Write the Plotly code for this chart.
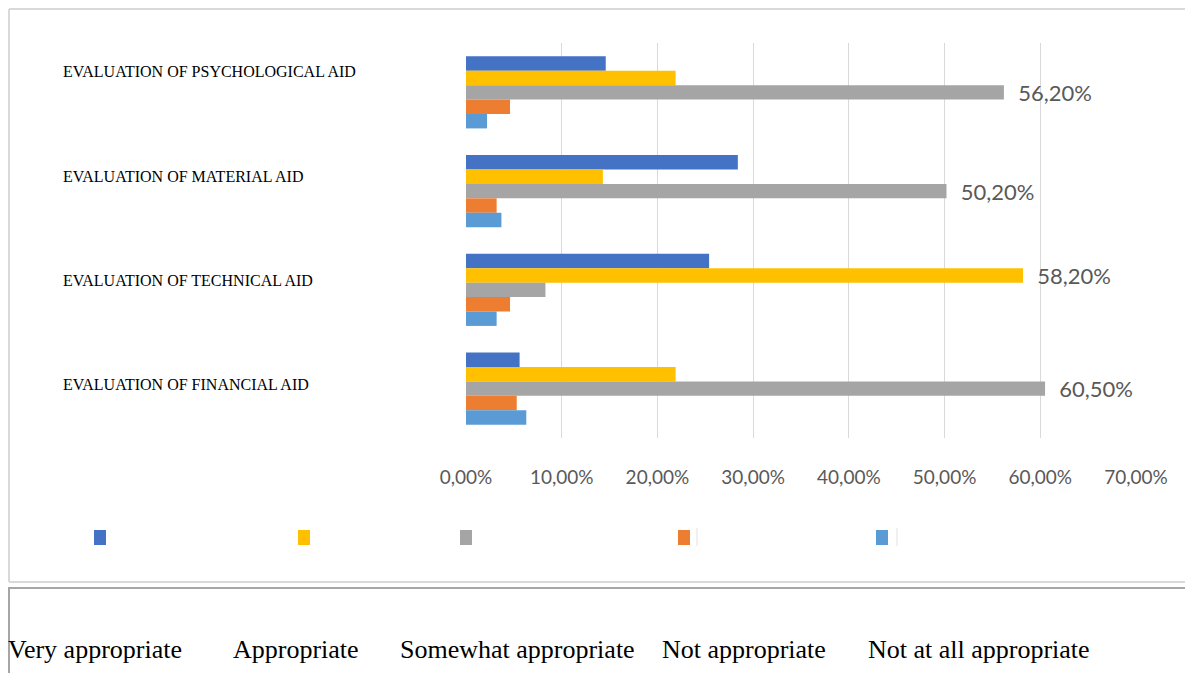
import plotly.graph_objects as go

categories = ["EVALUATION OF PSYCHOLOGICAL AID", "EVALUATION OF MATERIAL AID",
              "EVALUATION OF TECHNICAL AID", "EVALUATION OF FINANCIAL AID"]
series_names = ["Very appropriate", "Appropriate", "Somewhat appropriate",
                "Not appropriate", "Not at all appropriate"]
very_appropriate = [14.6, 28.4, 25.4, 5.6]
appropriate = [21.9, 14.3, 58.2, 21.9]
somewhat_appropriate = [56.2, 50.2, 8.3, 60.5]
not_appropriate = [4.6, 3.2, 4.6, 5.3]
not_at_all_appropriate = [2.2, 3.7, 3.2, 6.3]
tick_values = [0, 10, 20, 30, 40, 50, 60, 70]
tick_labels = ["0,00%", "10,00%", "20,00%", "30,00%", "40,00%", "50,00%", "60,00%", "70,00%"]

series_values = [very_appropriate, appropriate, somewhat_appropriate,
                 not_appropriate, not_at_all_appropriate]
colors = ["#4472C4", "#FFC000", "#A5A5A5", "#ED7D31", "#5B9BD5"]

# page body has an 8px margin; figure is sized so the page does not scroll
OFF = 8
W, H = 1193 - 2 * OFF, 681 - 2 * OFF
def px(x): return (x - OFF) / W
def py(y): return 1 - (y - OFF) / H

fig = go.Figure()
for i, (name, vals) in enumerate(zip(series_names, series_values)):
    texts = []
    for j, v in enumerate(vals):
        mx = max(s[j] for s in series_values)
        texts.append("\u00a0\u00a0" + f"{v:.2f}%".replace(".", ",") if v == mx else "")
    fig.add_trace(go.Bar(
        y=categories, x=vals, name=name, orientation="h",
        marker=dict(color=colors[i], line=dict(width=0)),
        text=texts, textposition="outside", constraintext="none", cliponaxis=False,
        textfont=dict(family="Lato", size=22, color="#595959"),
        showlegend=False,
    ))

fig.update_layout(
    width=W, height=H, autosize=False,
    margin=dict(l=0, r=0, t=0, b=0, pad=0, autoexpand=False),
    paper_bgcolor="white", plot_bgcolor="white",
    barmode="group", bargap=0.27, bargroupgap=0,
    xaxis=dict(domain=[px(466), px(1136)], range=[0, 70], tickvals=tick_values,
               ticktext=tick_labels, showgrid=True, gridcolor="#D9D9D9", gridwidth=1,
               zeroline=False, showline=False, ticks="", ticklabelstandoff=26,
               automargin=False,
               tickfont=dict(family="Lato", size=19, color="#595959")),
    yaxis=dict(domain=[py(438), py(43)], autorange="reversed", showticklabels=False,
               showgrid=False, zeroline=False, showline=False, ticks="", automargin=False),
)

# category labels
label_y = [72, 176, 280, 384]
for cat, yy in zip(categories, label_y):
    fig.add_annotation(text=cat, xref="paper", yref="paper", x=px(61), y=py(yy),
                       xanchor="left", yanchor="middle", showarrow=False,
                       font=dict(family="Liberation Serif", size=16, color="#000000"))

# chart box (open on the right, as it runs past the page edge) and lower box
box_line = dict(color="#D9D9D9", width=2)
fig.add_shape(type="line", xref="paper", yref="paper", x0=px(9), x1=1, y0=py(9), y1=py(9), line=box_line)
fig.add_shape(type="line", xref="paper", yref="paper", x0=px(9), x1=1, y0=py(582), y1=py(582), line=box_line)
fig.add_shape(type="line", xref="paper", yref="paper", x0=px(9), x1=px(9), y0=py(582), y1=py(9), line=box_line)
fig.add_shape(type="line", xref="paper", yref="paper", x0=px(8), x1=1, y0=py(588), y1=py(588),
              line=dict(color="#A6A6A6", width=2))
fig.add_shape(type="line", xref="paper", yref="paper", x0=px(9), x1=px(9), y0=py(588), y1=0,
              line=dict(color="#A6A6A6", width=2))

# legend markers (inside chart box) and legend texts (below)
marker_x = [100, 304, 466, 684, 882]
text_x = [6, 231, 398, 660, 866]
for name, c, mxp, tx in zip(series_names, colors, marker_x, text_x):
    fig.add_shape(type="rect", xref="paper", yref="paper", x0=px(mxp - 6), x1=px(mxp + 6),
                  y0=py(545), y1=py(530), fillcolor=c, line=dict(width=0))
    fig.add_annotation(text=name, xref="paper", yref="paper", x=px(tx), y=py(649),
                       xanchor="left", yanchor="middle", showarrow=False,
                       font=dict(family="Liberation Serif", size=26, color="black"))
# faint separators next to two legend markers
for sx in [697, 897]:
    fig.add_shape(type="line", xref="paper", yref="paper", x0=px(sx), x1=px(sx),
                  y0=py(546), y1=py(528), line=dict(color="#E0E0E0", width=1))

fig.write_html("out.html")
